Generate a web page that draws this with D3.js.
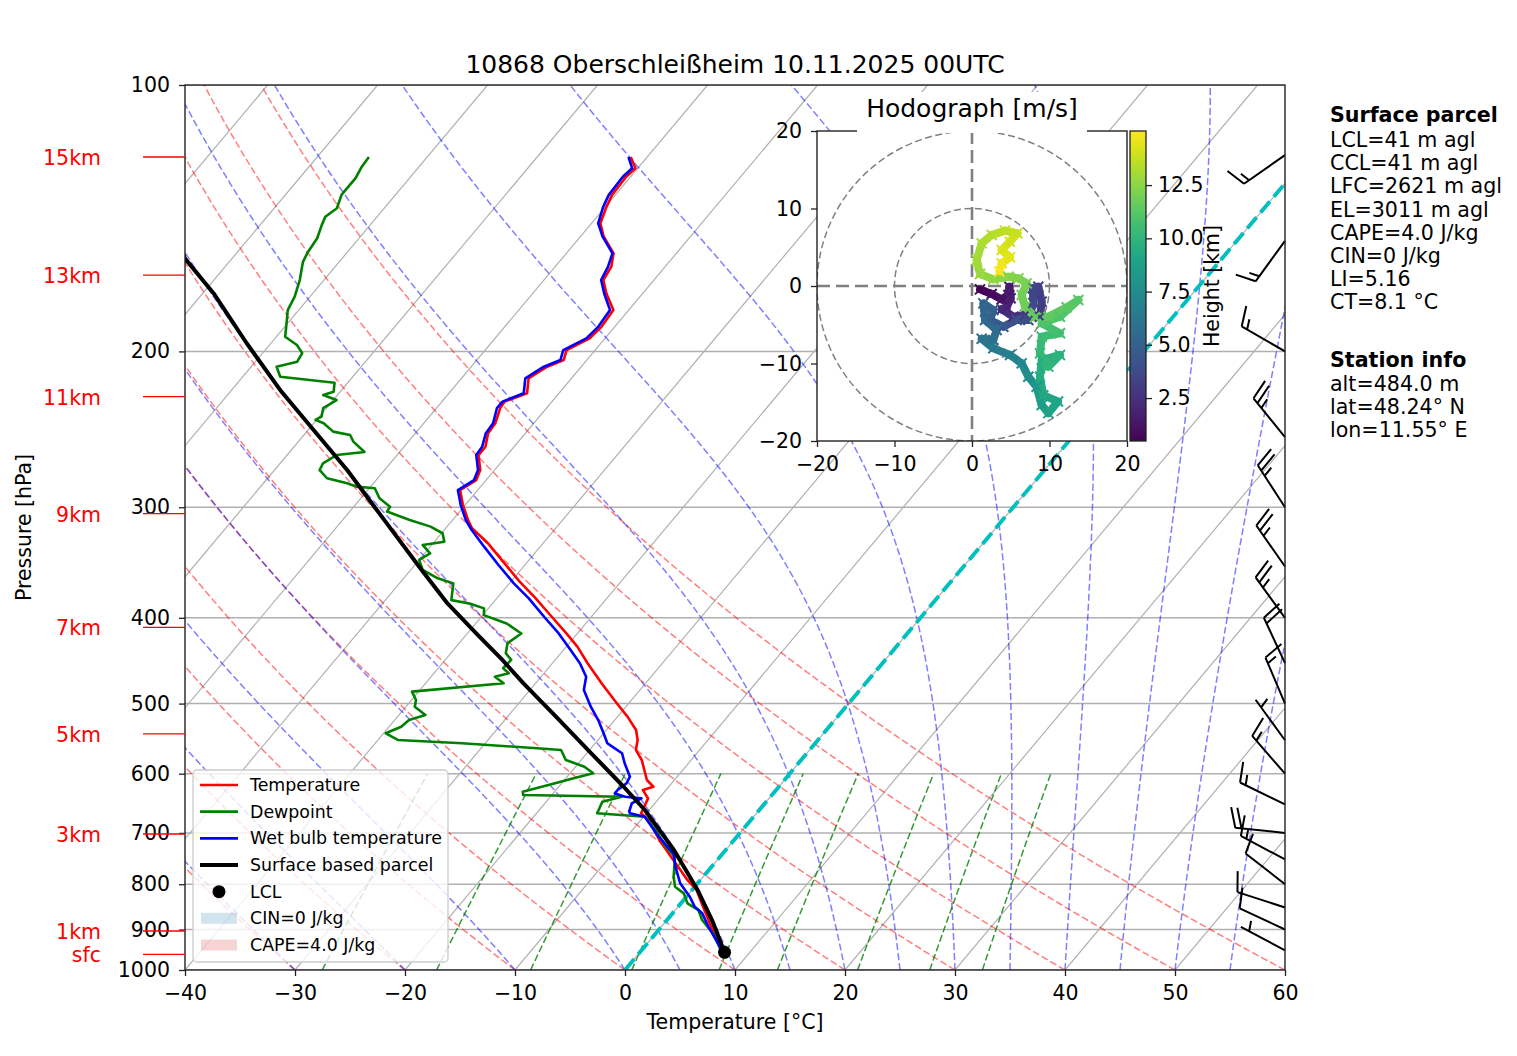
<!DOCTYPE html>
<html>
<head>
<meta charset="utf-8">
<script src="https://cdn.jsdelivr.net/npm/d3@7"></script>
<style>
  body { margin: 0; background: #fff; }
  text { font-family: "DejaVu Sans", sans-serif; }
</style>
</head>
<body>
<svg id="chart" width="1517" height="1056"></svg>
<script>
// ---- sounding data (pressure hPa, temperature degC) ----
const tempP = [957.5, 941.2, 901.0, 840.9, 812.1, 791.0, 751.0, 712.9, 676.8, 665.1, 653.9, 639.8, 626.1, 620.8, 610.0, 594.3, 579.0, 564.1, 549.6, 535.6, 517.3, 499.5, 474.3, 450.2, 431.1, 416.6, 398.9, 378.8, 364.1, 344.0, 329.5, 316.9, 310.1, 298.3, 286.9, 279.5, 272.3, 261.9, 256.3, 247.4, 241.1, 231.8, 227.9, 223.0, 214.5, 208.1, 204.5, 199.3, 193.3, 187.5, 179.6, 172.0, 166.1, 160.4, 155.0, 148.3, 143.3, 137.3, 133.1, 126.9, 124.2, 120.6];
const tempT = [7.7, 6.8, 4.9, 1.9, 0.4, -1.2, -4.0, -6.8, -9.3, -10.5, -10.7, -11.0, -12.1, -11.4, -12.5, -13.5, -14.5, -15.8, -16.4, -17.3, -19.1, -21.1, -24.0, -26.8, -29.0, -31.0, -33.6, -36.7, -39.2, -42.5, -45.0, -47.6, -48.6, -50.2, -51.6, -50.9, -51.3, -52.6, -52.6, -53.4, -53.5, -54.2, -54.3, -52.9, -53.9, -53.1, -52.1, -52.6, -51.4, -51.2, -51.4, -53.3, -54.6, -54.9, -55.7, -57.9, -59.2, -59.9, -60.3, -60.4, -60.2, -61.5];

const wetP = [957.5, 949.3, 925.0, 893.9, 862.9, 848.0, 826.4, 798.0, 764.2, 738.1, 707.0, 671.2, 665.1, 662.4, 648.0, 639.8, 637.1, 631.6, 626.1, 615.2, 604.7, 584.0, 569.0, 559.3, 554.4, 540.2, 521.9, 504.0, 482.6, 466.3, 450.2, 433.0, 416.6, 398.9, 380.2, 365.7, 348.6, 332.4, 318.3, 310.1, 298.3, 286.9, 279.5, 272.3, 261.9, 256.3, 247.4, 241.1, 231.8, 227.9, 223.0, 214.5, 208.1, 204.5, 199.3, 193.3, 187.5, 179.6, 172.0, 166.1, 160.4, 155.0, 148.3, 143.3, 137.3, 133.1, 126.9, 124.2, 120.6];
const wetT = [7.6, 7.3, 6.0, 4.3, 2.7, 1.5, 0.3, -1.6, -3.3, -4.5, -7.1, -9.9, -11.5, -11.7, -12.1, -11.6, -13.2, -14.4, -14.4, -14.1, -14.3, -15.8, -16.8, -18.2, -18.9, -20.0, -21.5, -23.2, -25.1, -25.9, -27.5, -29.6, -31.7, -34.3, -37.1, -39.6, -42.4, -45.1, -47.5, -48.8, -50.4, -51.8, -51.1, -51.5, -52.8, -52.9, -53.6, -53.7, -54.5, -54.5, -53.2, -54.2, -53.4, -52.4, -52.9, -51.7, -51.5, -51.7, -53.5, -54.8, -55.2, -55.8, -58.0, -59.4, -60.2, -60.6, -60.7, -60.5, -61.7];

const dewP = [957.5, 941.2, 909.0, 878.1, 855.6, 840.9, 819.3, 805.3, 784.3, 744.6, 725.5, 694.8, 671.2, 665.1, 659.5, 645.4, 637.1, 634.3, 628.8, 615.2, 607.3, 599.4, 589.2, 579.0, 564.1, 561.6, 554.4, 549.6, 540.2, 531.1, 521.9, 515.0, 504.0, 495.3, 484.7, 474.3, 466.3, 462.1, 456.1, 446.3, 438.6, 427.4, 416.6, 405.9, 397.2, 390.3, 385.3, 382.0, 365.7, 360.9, 353.2, 344.0, 338.2, 331.0, 328.1, 321.0, 315.5, 310.1, 306.1, 303.4, 299.6, 293.1, 285.5, 284.3, 281.8, 278.2, 272.3, 267.7, 261.9, 259.8, 252.9, 248.6, 246.4, 241.1, 239.0, 237.0, 231.8, 227.0, 224.0, 222.1, 217.0, 213.6, 208.1, 205.4, 200.9, 196.7, 192.5, 185.9, 179.6, 173.4, 166.1, 158.4, 154.3, 149.0, 143.9, 140.9, 137.8, 133.1, 130.8, 127.4, 123.7, 120.6];
const dewT = [7.5, 6.8, 5.2, 3.2, 2.1, 0.6, -0.5, -1.8, -2.7, -4.1, -5.7, -7.9, -9.9, -14.5, -14.6, -14.9, -13.5, -22.6, -22.9, -20.6, -19.3, -17.9, -19.2, -21.4, -22.6, -24.9, -32.1, -38.2, -39.8, -38.9, -38.7, -37.6, -39.2, -39.6, -40.6, -32.9, -34.2, -33.2, -34.1, -34.0, -35.0, -35.6, -35.1, -37.2, -39.9, -40.4, -42.1, -44.0, -45.1, -46.9, -48.9, -50.0, -49.5, -50.8, -49.1, -49.9, -51.5, -53.9, -55.5, -56.6, -56.7, -58.3, -59.5, -61.3, -62.4, -64.6, -65.9, -66.1, -65.5, -63.2, -65.0, -65.8, -67.6, -69.1, -70.1, -69.8, -70.3, -69.7, -71.3, -70.6, -71.2, -76.6, -77.7, -76.2, -76.4, -77.5, -79.2, -80.1, -81.0, -81.4, -82.2, -83.3, -83.6, -83.8, -84.4, -84.7, -84.3, -84.9, -84.9, -84.9, -85.2, -85.3];

const parcelP = [957.5, 878.1, 812.1, 731.9, 659.5, 620.8, 569.0, 517.3, 474.3, 446.3, 416.6, 385.3, 353.2, 313.3, 272.3, 245.4, 221.1, 195.8, 172.0, 157.0, 140.0];
const parcelT = [7.8, 4.1, 0.5, -4.7, -10.4, -14.1, -19.6, -25.6, -31.1, -34.8, -39.2, -44.1, -49.0, -55.65, -63.4, -69.5, -75.6, -82.2, -89.0, -94.3, -99.0];

const lclP = 955, lclT = 7.7;

// ---- height markers on the left ----
const heightLabels = ['sfc', '1km', '3km', '5km', '7km', '9km', '11km', '13km', '15km'];
const heightP = [960, 903.5, 702, 541, 410, 305, 225, 164, 120.6];

// ---- wind barbs (knots) ----
const barbP = [950, 900, 850, 800, 750, 700, 650, 600, 550, 500, 450, 400, 350, 300, 250, 200, 150, 120];
const barbDir = [298, 295, 288, 308, 298, 276, 296, 319, 324, 337, 335, 324, 325, 327, 321, 300, 216, 235];
const barbSpd = [5, 10, 10, 10, 15, 20, 15, 15, 5, 15, 20, 25, 25, 25, 25, 15, 15, 15];

// ---- hodograph (m/s) coloured by height (km) ----
const hodoU = [1.03, 2.54, 3.83, 4.69, 4.82, 4.99, 4.47, 3.83, 5.33, 6.84, 8.77, 8.99, 8.56, 7.83, 7.91, 7.27, 5.76, 4.04, 2.32, 2.75, 1.46, 1.68, 3.18, 2.75, 1.25, 2.75, 4.9, 6.41, 7.27, 8.34, 8.99, 9.85, 11.1, 9.2, 8.77, 9.0, 11.35, 9.85, 8.77, 9.0, 11.35, 9.0, 11.35, 13.72, 12.22, 9.85, 8.13, 6.84, 6.41, 7.05, 5.98, 4.69, 2.75, 1.03, 0.6, 1.25, 2.54, 4.26, 5.85, 4.9, 3.83, 4.9, 3.83, 3.52];
const hodoV = [-0.43, -1.03, -1.72, -1.16, -0.09, -1.59, -2.75, -3.01, -3.96, -3.74, -3.96, -2.02, -0.09, -0.3, -2.19, -4.39, -4.39, -5.25, -4.39, -3.1, -2.24, -4.39, -5.68, -6.97, -6.8, -8.04, -8.9, -9.98, -11.7, -13.0, -15.35, -16.4, -14.9, -14.1, -11.7, -9.55, -8.9, -10.4, -8.69, -6.54, -6.1, -4.82, -3.96, -1.8, -2.75, -3.96, -4.04, -2.67, -1.16, 0.34, 0.99, 1.2, 0.86, 1.55, 3.35, 5.5, 6.58, 7.14, 6.8, 5.72, 4.65, 3.7, 2.93, 1.85];
const hodoH = [0.484, 0.8, 1.1, 1.3, 1.5, 1.7, 1.9, 2.1, 2.4, 2.7, 2.9, 3.1, 3.3, 3.5, 3.7, 3.9, 4.1, 4.4, 4.7, 4.9, 5.1, 5.4, 5.6, 5.8, 6.0, 6.3, 6.7, 7.2, 7.7, 8.1, 8.5, 8.8, 9.0, 9.2, 9.4, 9.6, 9.8, 10.0, 10.2, 10.4, 10.6, 10.9, 11.0, 11.2, 11.35, 11.5, 11.6, 11.75, 11.9, 12.05, 12.2, 12.4, 12.6, 12.8, 13.0, 13.2, 13.4, 13.6, 13.8, 14.0, 14.2, 14.4, 14.6, 15.04];

// ---- background line families ----
const dryT0 = d3.range(-40, 61, 10);
const moistT0 = [-40, -30, -20, -10, 0, 5, 10, 15, 20, 25, 30, 35, 40, 45, 50, 55, 60];
const mixRatios = [0.0004, 0.001, 0.002, 0.004, 0.007, 0.01, 0.016, 0.024, 0.032];
const isotherms = d3.range(-100, 51, 10);
const isobars = d3.range(100, 1001, 100);

const infoLines = ['LCL=41 m agl', 'CCL=41 m agl', 'LFC=2621 m agl', 'EL=3011 m agl', 'CAPE=4.0 J/kg', 'CIN=0 J/kg', 'LI=5.16', 'CT=8.1 \u00b0C'];
const stationLines = ['alt=484.0 m', 'lat=48.24\u00b0 N', 'lon=11.55\u00b0 E'];

// ---- constants ----
const RD = 287.04749, CP = 1004.6662, LV = 2.50084e6, EPS = 0.621957;
const SKEW = Math.tan(40 * Math.PI / 180);
const L = 185, R = 1285, T = 85, B = 970;
const FS = 20.5;

const svg = d3.select('#chart');
const xBase = d3.scaleLinear().domain([-40, 60]).range([L, R]);
const y = d3.scaleLog().domain([1000, 100]).range([B, T]);
const sx = (t, p) => xBase(t) + SKEW * (B - y(p));
const skewLine = d3.line().x(d => sx(d[0], d[1])).y(d => y(d[1]));
const zip = (ps, ts) => ps.map((p, i) => [ts[i], p]);

const defs = svg.append('defs');
defs.append('clipPath').attr('id', 'plotclip')
  .append('rect').attr('x', L).attr('y', T).attr('width', R - L).attr('height', B - T);

const plot = svg.append('g').attr('clip-path', 'url(#plotclip)');

// isobars and isotherms
plot.selectAll('.isobar').data(isobars).enter().append('line')
  .attr('x1', L).attr('x2', R).attr('y1', d => y(d)).attr('y2', d => y(d))
  .attr('stroke', '#b0b0b0').attr('stroke-width', 1.5);
plot.selectAll('.isotherm').data(isotherms).enter().append('path')
  .attr('d', t => skewLine([[t, 1000], [t, 100]]))
  .attr('stroke', '#b0b0b0').attr('stroke-width', 1.2).attr('fill', 'none');

const pLevels = d3.range(1000, 99, -5);

// dry adiabats
plot.selectAll('.dry').data(dryT0).enter().append('path')
  .attr('d', t0 => skewLine(pLevels.map(p => [(t0 + 273.15) * Math.pow(p / 1000, RD / CP) - 273.15, p])))
  .attr('fill', 'none').attr('stroke', 'red').attr('stroke-opacity', 0.5)
  .attr('stroke-width', 1.5).attr('stroke-dasharray', '7,3');

// moist adiabats
function moistRate(tk, p) {
  const es = 6.112 * Math.exp(17.67 * (tk - 273.15) / (tk - 29.65));
  const rs = EPS * es / (p - es);
  return ((RD * tk + LV * rs) / p) / (CP + (LV * LV * rs * EPS) / (RD * tk * tk));
}
function moistAdiabat(t0) {
  let tk = t0 + 273.15;
  const out = [[t0, 1000]];
  for (let p = 1000; p > 100; p -= 5) {
    const h = -5;
    const k1 = moistRate(tk, p);
    const k2 = moistRate(tk + h * k1 / 2, p + h / 2);
    const k3 = moistRate(tk + h * k2 / 2, p + h / 2);
    const k4 = moistRate(tk + h * k3, p + h);
    tk += h * (k1 + 2 * k2 + 2 * k3 + k4) / 6;
    out.push([tk - 273.15, p + h]);
  }
  return out;
}
plot.selectAll('.moist').data(moistT0).enter().append('path')
  .attr('d', t0 => skewLine(moistAdiabat(t0)))
  .attr('fill', 'none').attr('stroke', 'blue').attr('stroke-opacity', 0.5)
  .attr('stroke-width', 1.5).attr('stroke-dasharray', '7,3');

// mixing ratio lines
const mixP = d3.range(1000, 599, -10);
function dewFromW(w, p) {
  const e = p * w / (EPS + w);
  const a = Math.log(e / 6.112);
  return 243.5 * a / (17.67 - a);
}
plot.selectAll('.mix').data(mixRatios).enter().append('path')
  .attr('d', w => skewLine(mixP.map(p => [dewFromW(w, p), p])))
  .attr('fill', 'none').attr('stroke', 'green').attr('stroke-opacity', 0.8)
  .attr('stroke-width', 1.5).attr('stroke-dasharray', '7,3');

// 0 degC isotherm
plot.append('path').attr('d', skewLine([[0, 1000], [0, 100]]))
  .attr('stroke', '#00bfbf').attr('stroke-width', 3.9).attr('stroke-dasharray', '14.4,6.2').attr('fill', 'none');

// profiles
const profiles = [
  {p: tempP, t: tempT, color: 'red', w: 2.6},
  {p: dewP, t: dewT, color: 'green', w: 2.6},
  {p: wetP, t: wetT, color: 'blue', w: 2.6},
  {p: parcelP, t: parcelT, color: 'black', w: 4}
];
profiles.forEach(pr => plot.append('path').attr('d', skewLine(zip(pr.p, pr.t)))
  .attr('fill', 'none').attr('stroke', pr.color).attr('stroke-width', pr.w).attr('stroke-linejoin', 'round'));
plot.append('circle').attr('cx', sx(lclT, lclP)).attr('cy', y(lclP)).attr('r', 6.5).attr('fill', 'black');

// wind barbs along the right edge
function barbPath(ax, ay, dir, spd) {
  const len = 50, fh = 0.4 * len, fw = 0.25 * len, sp = 0.125 * len;
  const r = dir * Math.PI / 180;
  const s = [Math.sin(r), -Math.cos(r)];
  const wx = -Math.sin(r), wy = -Math.cos(r);
  const b = [-wy, -wx];
  const pt = (o, k) => [ax + o * s[0] + k * b[0], ay + o * s[1] + k * b[1]];
  const n = Math.round(spd / 5) * 5;
  const full = Math.floor(n / 10), half = n % 10 >= 5;
  const segs = [[pt(0, 0), pt(len, 0)]];
  let off = len;
  for (let i = 0; i < full; i++) {
    segs.push([pt(off, 0), pt(off + fw / 2, fh)]);
    off -= sp;
  }
  if (half) {
    if (off === len) off -= 1.5 * sp;
    segs.push([pt(off, 0), pt(off + fw / 4, fh / 2)]);
  }
  return segs.map(sg => `M${sg[0][0]},${sg[0][1]}L${sg[1][0]},${sg[1][1]}`).join('');
}
svg.append('g').selectAll('path').data(barbP).enter().append('path')
  .attr('d', (p, i) => barbPath(R, y(p), barbDir[i], barbSpd[i]))
  .attr('stroke', 'black').attr('stroke-width', 2).attr('fill', 'none');

// frame
svg.append('rect').attr('x', L).attr('y', T).attr('width', R - L).attr('height', B - T)
  .attr('fill', 'none').attr('stroke', '#222').attr('stroke-width', 1.4);

function styleAxis(g) {
  g.select('.domain').remove();
  g.selectAll('line').attr('stroke', '#222').attr('stroke-width', 1.3);
  g.selectAll('text').attr('font-size', FS).attr('fill', '#000').style('font-family', '"DejaVu Sans", sans-serif');
}

// axes
const xAxis = d3.axisBottom(xBase).tickValues(d3.range(-40, 61, 10)).tickSize(6).tickPadding(9);
svg.append('g').attr('transform', `translate(0,${B})`).call(xAxis).call(styleAxis);
const yAxis = d3.axisLeft(y).tickValues(isobars).tickFormat(d3.format('d')).tickSize(6).tickPadding(9);
svg.append('g').attr('transform', `translate(${L},0)`).call(yAxis).call(styleAxis);

svg.append('text').attr('x', (L + R) / 2).attr('y', 1029).attr('text-anchor', 'middle')
  .attr('font-size', FS).text('Temperature [\u00b0C]');
svg.append('text').attr('transform', `translate(31,${(T + B) / 2}) rotate(-90)`).attr('text-anchor', 'middle')
  .attr('font-size', FS).text('Pressure [hPa]');
svg.append('text').attr('x', (L + R) / 2).attr('y', 73).attr('text-anchor', 'middle')
  .attr('font-size', 25).text('10868 Oberschlei\u00dfheim 10.11.2025 00UTC');

// height markers
const hG = svg.append('g');
hG.selectAll('line').data(heightP).enter().append('line')
  .attr('x1', 143).attr('x2', L).attr('y1', d => y(d)).attr('y2', d => y(d))
  .attr('stroke', 'red').attr('stroke-width', 1.3);
hG.selectAll('text').data(heightP).enter().append('text')
  .attr('x', 101).attr('y', d => y(d) + 8).attr('text-anchor', 'end')
  .attr('font-size', FS).attr('fill', 'red').text((d, i) => heightLabels[i]);

// legend
const lg = svg.append('g');
lg.append('rect').attr('x', 193).attr('y', 770).attr('width', 255).attr('height', 192).attr('rx', 4)
  .attr('fill', 'white').attr('fill-opacity', 0.8).attr('stroke', '#cccccc').attr('stroke-width', 1.3);
const legendItems = [
  {label: 'Temperature', type: 'line', color: 'red', w: 2.6},
  {label: 'Dewpoint', type: 'line', color: 'green', w: 2.6},
  {label: 'Wet bulb temperature', type: 'line', color: 'blue', w: 2.6},
  {label: 'Surface based parcel', type: 'line', color: 'black', w: 4},
  {label: 'LCL', type: 'dot', color: 'black'},
  {label: 'CIN=0 J/kg', type: 'patch', color: '#1f77b4'},
  {label: 'CAPE=4.0 J/kg', type: 'patch', color: '#d62728'}
];
legendItems.forEach((it, i) => {
  const cy = 785 + i * 26.67;
  if (it.type === 'line') {
    lg.append('line').attr('x1', 200).attr('x2', 238).attr('y1', cy).attr('y2', cy)
      .attr('stroke', it.color).attr('stroke-width', it.w);
  } else if (it.type === 'dot') {
    lg.append('circle').attr('cx', 219).attr('cy', cy).attr('r', 6.5).attr('fill', it.color);
  } else {
    lg.append('rect').attr('x', 201).attr('y', cy - 5.5).attr('width', 36).attr('height', 11)
      .attr('fill', it.color).attr('fill-opacity', 0.2);
  }
  lg.append('text').attr('x', 250).attr('y', cy + 6).attr('font-size', 17.4).text(it.label);
});

// right hand info text
const info = svg.append('g');
info.append('text').attr('x', 1330).attr('y', 122).attr('font-size', 20.6).attr('font-weight', 'bold').text('Surface parcel');
infoLines.forEach((t, i) => info.append('text').attr('x', 1330).attr('y', 147 + i * 23.2).attr('font-size', 20.6).text(t));
info.append('text').attr('x', 1330).attr('y', 367).attr('font-size', 20.6).attr('font-weight', 'bold').text('Station info');
stationLines.forEach((t, i) => info.append('text').attr('x', 1330).attr('y', 391 + i * 23.2).attr('font-size', 20.6).text(t));

// ---- hodograph inset ----
const hx = d3.scaleLinear().domain([-20, 20]).range([817, 1127]);
const hy = d3.scaleLinear().domain([-20, 20]).range([441, 131]);
const hodo = svg.append('g');
hodo.append('rect').attr('x', 857).attr('y', 92).attr('width', 230).attr('height', 40).attr('fill', 'white');
hodo.append('text').attr('x', 972).attr('y', 117).attr('text-anchor', 'middle').attr('font-size', 25).text('Hodograph [m/s]');
hodo.append('rect').attr('x', 817).attr('y', 131).attr('width', 310).attr('height', 310).attr('fill', 'white');
defs.append('clipPath').attr('id', 'hodoclip')
  .append('rect').attr('x', 817).attr('y', 131).attr('width', 310).attr('height', 310);
const hodoIn = hodo.append('g').attr('clip-path', 'url(#hodoclip)');
[10, 20].forEach(r => hodoIn.append('circle').attr('cx', hx(0)).attr('cy', hy(0))
  .attr('r', hx(r) - hx(0)).attr('fill', 'none').attr('stroke', 'gray')
  .attr('stroke-width', 1.5).attr('stroke-dasharray', '7,3.5'));
hodoIn.append('line').attr('x1', hx(0)).attr('x2', hx(0)).attr('y1', 131).attr('y2', 441)
  .attr('stroke', 'gray').attr('stroke-width', 2.6).attr('stroke-dasharray', '13,6');
hodoIn.append('line').attr('y1', hy(0)).attr('y2', hy(0)).attr('x1', 817).attr('x2', 1127)
  .attr('stroke', 'gray').attr('stroke-width', 2.6).attr('stroke-dasharray', '13,6');

const color = d3.scaleSequential(d3.interpolateViridis).domain(d3.extent(hodoH));
const segs = d3.range(hodoU.length - 1);
hodoIn.selectAll('.seg').data(segs).enter().append('line')
  .attr('x1', i => hx(hodoU[i])).attr('y1', i => hy(hodoV[i]))
  .attr('x2', i => hx(hodoU[i + 1])).attr('y2', i => hy(hodoV[i + 1]))
  .attr('stroke', i => color((hodoH[i] + hodoH[i + 1]) / 2))
  .attr('stroke-width', 8).attr('stroke-linecap', 'round').attr('stroke-dasharray', '2.2,0.9');
hodoIn.selectAll('.mk').data(hodoU).enter().append('path')
  .attr('d', (u, i) => {
    const cx = hx(u), cy = hy(hodoV[i]), k = 5;
    return `M${cx - k},${cy - k}L${cx + k},${cy + k}M${cx - k},${cy + k}L${cx + k},${cy - k}`;
  })
  .attr('stroke', (u, i) => color(hodoH[i])).attr('stroke-width', 2);

hodo.append('rect').attr('x', 817).attr('y', 131).attr('width', 310).attr('height', 310)
  .attr('fill', 'none').attr('stroke', '#222').attr('stroke-width', 1.4);
// the title box hides the top spine under it
hodo.append('rect').attr('x', 857).attr('y', 129).attr('width', 230).attr('height', 4).attr('fill', 'white');

const hTicks = [-20, -10, 0, 10, 20];
hodo.append('g').attr('transform', 'translate(0,441)')
  .call(d3.axisBottom(hx).tickValues(hTicks).tickSize(6).tickPadding(9)).call(styleAxis);
hodo.append('g').attr('transform', 'translate(817,0)')
  .call(d3.axisLeft(hy).tickValues(hTicks).tickSize(6).tickPadding(9)).call(styleAxis);

// colorbar
const cbY = d3.scaleLinear().domain(d3.extent(hodoH)).range([441, 131]);
const grad = defs.append('linearGradient').attr('id', 'viridis')
  .attr('x1', 0).attr('y1', 1).attr('x2', 0).attr('y2', 0);
d3.range(0, 1.0001, 0.05).forEach(t => grad.append('stop').attr('offset', t).attr('stop-color', d3.interpolateViridis(t)));
hodo.append('rect').attr('x', 1130).attr('y', 131).attr('width', 16).attr('height', 310).attr('fill', 'url(#viridis)')
  .attr('stroke', '#222').attr('stroke-width', 1.3);
hodo.append('g').attr('transform', 'translate(1146,0)')
  .call(d3.axisRight(cbY).tickValues([2.5, 5, 7.5, 10, 12.5]).tickFormat(d3.format('.1f')).tickSize(6).tickPadding(6))
  .call(styleAxis);
hodo.append('text').attr('transform', 'translate(1219,286) rotate(-90)').attr('text-anchor', 'middle')
  .attr('font-size', FS).text('Height [km]');
</script>
</body>
</html>
